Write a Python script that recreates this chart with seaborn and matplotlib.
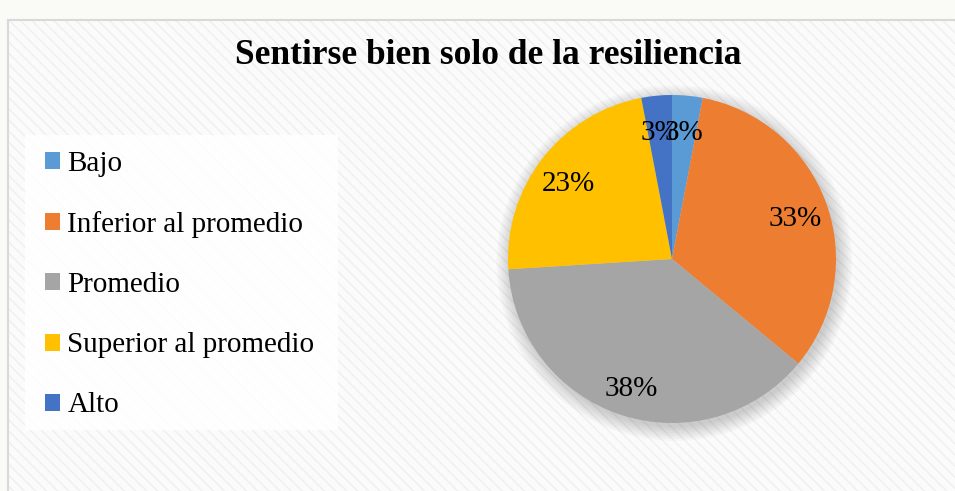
import matplotlib
matplotlib.use("Agg")
import matplotlib.pyplot as plt
import matplotlib.patches as mpatches
import seaborn as sns

# ---------- data ---------- #
categories = ["Bajo", "Inferior al promedio", "Promedio",
              "Superior al promedio", "Alto"]
percentages = [3, 33, 38, 23, 3]
title = "Sentirse bien solo de la resiliencia"

# Office-like palette
colors = sns.color_palette(["#5B9BD5", "#ED7D31", "#A5A5A5", "#FFC000", "#4472C4"])

sns.set_theme(style="white")
plt.rcParams["font.family"] = ["Liberation Serif", "DejaVu Serif"]
plt.rcParams["text.color"] = "black"
plt.rcParams["hatch.linewidth"] = 1.0

W, H = 955, 491
fig = plt.figure(figsize=(W / 100, H / 100), dpi=100)
fig.patch.set_facecolor("#fafaf7")

# chart area with faint diagonal texture
bg = mpatches.Rectangle((8 / W, 0), 1, (H - 20) / H, transform=fig.transFigure,
                        facecolor="#fbfbfb", edgecolor="#efefef", hatch="\\\\\\",
                        linewidth=0, zorder=-3)
fig.patches.append(bg)
border = mpatches.Rectangle((8 / W, -0.01), 1, (H - 20) / H + 0.01,
                            transform=fig.transFigure, facecolor="none",
                            edgecolor="#d9d9d9", linewidth=1.5, zorder=-2)
fig.patches.append(border)

# legend box
leg_box = mpatches.Rectangle((25 / W, (H - 430) / H), (338 - 25) / W, (430 - 135) / H,
                             transform=fig.transFigure, facecolor="white",
                             edgecolor="none", alpha=0.85, zorder=-1)
fig.patches.append(leg_box)

fig.text(488 / W, 1 - 56 / H, title, ha="center", va="center",
         fontsize=25.5, fontweight="bold", color="black")

# pie axes
r = 164
cx, cy = 672, 259
ax = fig.add_axes([(cx - r) / W, (H - cy - r) / H, 2 * r / W, 2 * r / H])
ax.set_zorder(2)
ax.patch.set_visible(False)

# soft shadow
for i in range(8):
    ax.add_patch(mpatches.Circle((0.015, -0.025), 1.0 + 0.012 * i,
                                 facecolor="black", alpha=0.025,
                                 edgecolor="none", clip_on=False, zorder=0))

wedges, texts, autotexts = ax.pie(
    percentages, colors=colors, startangle=90, counterclock=False,
    autopct=lambda p: f"{p:.0f}%", pctdistance=0.8, radius=1.0,
    wedgeprops=dict(linewidth=0), textprops=dict(fontsize=21, color="black"))
for w in wedges:
    w.set_zorder(2)
    w.set_clip_on(False)
for t in autotexts:
    t.set_zorder(3)
    x, y = t.get_position()
    t.set_position((x, y - 0.03))

ax.set_xlim(-1, 1)
ax.set_ylim(-1, 1)
ax.set_aspect("equal")
ax.axis("off")

handles = [mpatches.Patch(facecolor=c, edgecolor="none") for c in colors]
fig.legend(handles, categories, loc="upper left",
           bbox_to_anchor=(45 / W, 1 - 151 / H), frameon=False,
           fontsize=21, handlelength=0.52, handleheight=0.52,
           handletextpad=0.25, labelspacing=1.17, borderpad=0, borderaxespad=0)

fig.savefig("out.png", dpi=100, facecolor=fig.get_facecolor())
